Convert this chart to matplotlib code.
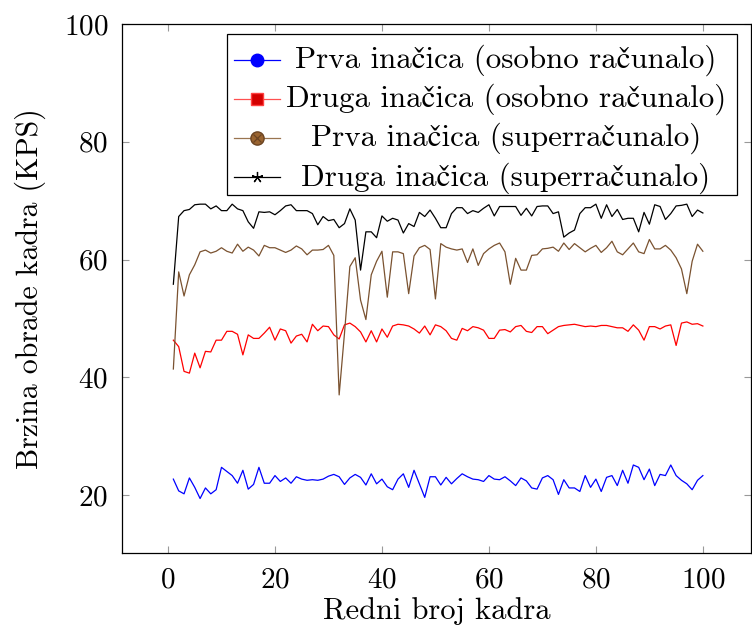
import matplotlib
matplotlib.use("Agg")
import matplotlib.pyplot as plt
from matplotlib.patches import Rectangle

plt.rcParams['font.family'] = ['cmr10', 'STIXGeneral', 'DejaVu Serif']
plt.rcParams['axes.formatter.use_mathtext'] = True
plt.rcParams['mathtext.fontset'] = 'cm'

frames = list(range(1, 101))

prva_pc = [22.7, 20.7, 20.2, 22.9, 21.3, 19.4, 21.2, 20.2, 20.9, 24.7,
           24.0, 23.3, 22.0, 24.2, 21.0, 21.8, 24.7, 22.0, 22.0, 23.3,
           22.3, 22.9, 22.0, 23.1, 22.7, 22.5, 22.6, 22.5, 22.7, 23.2,
           23.5, 23.1, 21.8, 22.9, 23.5, 23.0, 21.7, 23.6, 21.9, 22.7,
           21.4, 20.9, 22.7, 23.6, 21.3, 24.2, 21.9, 19.6, 23.1, 23.1,
           21.7, 23.0, 21.9, 22.8, 23.6, 23.1, 22.7, 22.6, 22.3, 23.3,
           22.7, 22.6, 23.1, 22.4, 21.6, 22.9, 22.4, 21.2, 21.0, 22.9,
           23.3, 22.6, 20.1, 22.6, 21.2, 21.2, 20.6, 23.3, 21.3, 22.7,
           20.6, 23.0, 23.3, 21.6, 24.2, 22.0, 25.1, 24.7, 22.6, 24.4,
           21.6, 23.5, 23.3, 25.1, 23.3, 22.5, 21.9, 20.9, 22.5, 23.3]

druga_pc = [46.3, 45.2, 41.0, 40.7, 44.1, 41.6, 44.4, 44.3, 46.3, 46.3,
            47.8, 47.8, 47.3, 43.8, 47.2, 46.6, 46.6, 47.5, 48.5, 46.3,
            48.2, 47.9, 45.8, 47.0, 47.3, 46.0, 49.0, 47.9, 48.7, 48.6,
            47.2, 46.5, 48.9, 49.2, 48.6, 47.7, 46.0, 47.9, 46.0, 48.2,
            46.8, 48.7, 49.0, 48.9, 48.7, 48.2, 47.5, 48.7, 47.2, 48.9,
            48.6, 47.9, 46.6, 46.3, 48.3, 47.9, 48.6, 48.4, 48.0, 46.6,
            46.6, 48.0, 48.1, 47.7, 48.6, 48.8, 47.8, 47.6, 48.6, 48.6,
            47.4, 48.0, 48.6, 48.8, 48.9, 49.0, 48.8, 48.6, 48.7, 48.6,
            48.8, 48.8, 48.6, 48.4, 48.4, 47.8, 48.9, 48.0, 46.3, 48.6,
            48.6, 48.2, 48.7, 48.9, 45.4, 49.2, 49.4, 49.0, 49.1, 48.7]

prva_super = [41.4, 57.9, 53.8, 57.4, 59.1, 61.3, 61.6, 61.1, 61.4, 62.0,
              61.4, 61.1, 62.6, 61.4, 62.1, 61.6, 60.6, 62.4, 62.0, 62.0,
              61.6, 61.2, 61.6, 62.3, 61.8, 60.8, 61.6, 61.6, 61.7, 62.4,
              60.7, 37.0, 47.5, 58.8, 60.3, 53.1, 49.8, 57.4, 59.7, 61.4,
              53.6, 61.3, 61.3, 61.0, 54.2, 60.6, 62.0, 62.4, 61.7, 53.3,
              62.7, 62.1, 61.8, 61.6, 61.8, 59.5, 61.8, 59.0, 61.0, 61.8,
              62.4, 62.8, 61.3, 55.8, 60.2, 58.2, 58.2, 60.7, 60.8, 61.8,
              61.9, 62.1, 61.4, 62.8, 61.7, 62.7, 62.0, 61.3, 61.9, 62.4,
              61.2, 62.0, 63.1, 61.3, 60.8, 61.8, 62.8, 61.3, 61.0, 63.4,
              61.8, 61.8, 62.4, 61.6, 60.3, 58.4, 54.2, 59.7, 62.6, 61.4]

druga_super = [55.8, 67.3, 68.3, 68.5, 69.3, 69.4, 69.4, 68.6, 69.1, 68.3,
               68.3, 69.4, 68.6, 68.3, 66.4, 65.3, 68.1, 68.0, 68.1, 67.6,
               68.3, 69.1, 69.3, 68.3, 68.3, 68.3, 67.8, 65.9, 67.3, 66.6,
               66.8, 65.4, 66.1, 68.6, 66.7, 58.2, 64.7, 64.7, 63.7, 67.4,
               66.5, 67.0, 66.7, 64.5, 66.1, 65.6, 68.0, 67.3, 68.4, 67.0,
               65.4, 65.4, 67.8, 68.8, 68.8, 67.8, 68.3, 68.0, 68.7, 69.3,
               67.4, 69.0, 69.0, 69.0, 69.0, 67.5, 68.7, 67.4, 69.0, 69.1,
               69.1, 67.8, 68.1, 63.8, 64.5, 65.0, 67.8, 68.8, 68.8, 69.4,
               67.0, 69.3, 67.3, 68.5, 66.8, 67.0, 67.0, 64.7, 68.0, 66.0,
               69.3, 69.0, 66.8, 67.8, 69.1, 69.2, 69.4, 67.3, 68.4, 67.9]

labels = ['Prva inačica (osobno računalo)',
          'Druga inačica (osobno računalo)',
          'Prva inačica (superračunalo)',
          'Druga inačica (superračunalo)']
colors = ['#0000ff', '#ff0000', '#7a5230', '#000000']
x_label = 'Redni broj kadra'
y_label = 'Brzina obrade kadra (KPS)'
xticks = [0, 20, 40, 60, 80, 100]
yticks = [20, 40, 60, 80, 100]

W, H = 752, 631
fig = plt.figure(figsize=(W / 100, H / 100), dpi=100)
L, R, T, B = 122, 751, 24, 553
ax = fig.add_axes([L / W, 1 - B / H, (R - L) / W, (B - T) / H])

series = [prva_pc, druga_pc, prva_super, druga_super]
for s, c in zip(series, colors):
    ax.plot(frames, s, color=c, lw=0.9)

ax.set_xlim(-8.6, 109)
ax.set_ylim(10.15, 100)
ax.set_xticks(xticks)
ax.set_yticks(yticks)
ax.tick_params(direction='in', top=True, right=True, length=5, width=0.8,
               color='#999999', labelsize=21)
ax.tick_params(axis='y', pad=10)
ax.tick_params(axis='x', pad=10)
for sp in ax.spines.values():
    sp.set_linewidth(0.9)
ax.set_xlabel(x_label, fontsize=22)
ax.set_ylabel(y_label, fontsize=21.5)
ax.xaxis.set_label_coords(0.5, (B - 611) / (B - T))
ax.yaxis.set_label_coords((30 - L) / (R - L), 0.5)
ax.xaxis.label.set_va('center')
ax.yaxis.label.set_va('center')


def axp(px, py):
    return (px - L) / (R - L), (B - py) / (B - T)


# legend box (drawn manually to centre the entries like pgfplots)
x0, y0 = axp(227, 195)
x1, y1 = axp(737, 34)
ax.add_patch(Rectangle((x0, y0), x1 - x0, y1 - y0, transform=ax.transAxes,
                       facecolor='white', edgecolor='black', lw=0.9, zorder=5))
entry_y = [59.5, 98.5, 137.5, 177]
line_cols = ['#0000ff', '#ff5050', '#9a7550', '#000000']
for k, (lab, ly) in enumerate(zip(labels, entry_y)):
    hx0, hy = axp(234, ly)
    hx1, _ = axp(280, ly)
    mx, _ = axp(257, ly)
    ax.plot([hx0, hx1], [hy, hy], transform=ax.transAxes, color=line_cols[k],
            lw=0.9, zorder=6, clip_on=False)
    if k == 0:
        ax.plot([mx], [hy], transform=ax.transAxes, marker='o', ms=9,
                mfc='#0000ff', mec='#0000ff', zorder=7, clip_on=False)
    elif k == 1:
        ax.plot([mx], [hy], transform=ax.transAxes, marker='s', ms=8.5,
                mfc='#d40000', mec='#ff4040', mew=1, zorder=7, clip_on=False)
    elif k == 2:
        ax.plot([mx], [hy], transform=ax.transAxes, marker='o', ms=9.5,
                mfc='#9a6430', mec='#6b4422', zorder=7, clip_on=False)
        ax.plot([mx], [hy], transform=ax.transAxes, marker='x', ms=6,
                mec='#6b4422', mew=0.9, zorder=8, clip_on=False)
    else:
        ax.plot([mx], [hy], transform=ax.transAxes, marker=(5, 2, 0), ms=8,
                mec='#000000', mew=0.9, zorder=7, clip_on=False)
    tx, ty = axp(506, ly + 1)
    ax.text(tx, ty, lab, transform=ax.transAxes, ha='center', va='center',
            fontsize=22.3, zorder=8)

fig.savefig('out.png', dpi=100)
